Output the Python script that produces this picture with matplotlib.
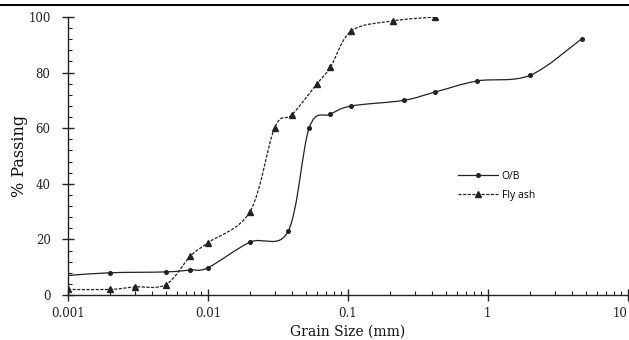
import numpy as np
import matplotlib
matplotlib.use("Agg")
import matplotlib.pyplot as plt
from matplotlib.path import Path
from matplotlib.patches import PathPatch
from matplotlib.lines import Line2D
from matplotlib.ticker import MultipleLocator, LogLocator, FixedFormatter, FixedLocator

# Grain size distribution (grain size in mm, percent passing)
ob_size = [0.001, 0.002, 0.005, 0.0075, 0.01, 0.02, 0.0375, 0.053, 0.075, 0.106, 0.25, 0.42, 0.84, 2.0, 4.7]
ob_pass = [7.0, 8.0, 8.3, 9.0, 9.8, 19.0, 23.0, 60.2, 65.0, 68.0, 70.0, 73.0, 77.0, 79.0, 92.2]

fa_size = [0.001, 0.002, 0.003, 0.005, 0.0075, 0.01, 0.02, 0.030, 0.04, 0.06, 0.075, 0.106, 0.21, 0.42]
fa_pass = [2.0, 2.0, 2.9, 3.7, 14.0, 18.8, 30.0, 60.2, 64.9, 75.9, 81.9, 95.0, 98.6, 100.0]

x_ticks = [0.001, 0.01, 0.1, 1, 10]
x_tick_labels = ["0.001", "0.01", "0.1", "1", "10"]
y_ticks = [0, 20, 40, 60, 80, 100]


def smooth_path(xs, ys, tension=1 / 6):
    """Cubic Bezier path through the points (Catmull-Rom style, log-x space)."""
    lx = np.log10(xs)
    y = np.asarray(ys, float)
    n = len(lx)
    verts = [(xs[0], y[0])]
    codes = [Path.MOVETO]
    for i in range(n - 1):
        p0 = (lx[i - 1], y[i - 1]) if i > 0 else (lx[i], y[i])
        p1 = (lx[i], y[i])
        p2 = (lx[i + 1], y[i + 1])
        p3 = (lx[i + 2], y[i + 2]) if i + 2 < n else p2
        c1 = (p1[0] + (p2[0] - p0[0]) * tension, p1[1] + (p2[1] - p0[1]) * tension)
        c2 = (p2[0] - (p3[0] - p1[0]) * tension, p2[1] - (p3[1] - p1[1]) * tension)
        for c in (c1, c2, p2):
            verts.append((10 ** c[0], c[1]))
        codes += [Path.CURVE4] * 3
    return Path(verts, codes)


fig = plt.figure(figsize=(6.29, 3.40), dpi=100)
ax = fig.add_axes([0.108, 0.1324, 0.890, 0.8176])
ax.set_xscale("log")
ax.set_xlim(0.001, 10)
ax.set_ylim(0, 100)

line_col = "#222222"
ax.add_patch(PathPatch(smooth_path(ob_size, ob_pass), fill=False, edgecolor=line_col, lw=0.9))
ax.add_patch(PathPatch(smooth_path(fa_size, fa_pass), fill=False, edgecolor=line_col, lw=0.9,
                       linestyle=(0, (2.5, 1.2))))
ax.plot(ob_size[1:], ob_pass[1:], linestyle="none", marker="o", ms=2.6, color=line_col)
ax.plot(fa_size, fa_pass, linestyle="none", marker="^", ms=4.2, color=line_col)

# legend entries
h1 = Line2D([], [], color=line_col, lw=0.9, marker="o", ms=2.6)
h2 = Line2D([], [], color=line_col, lw=0.9, marker="^", ms=4.2, linestyle=(0, (2.5, 1.2)))
ax.legend([h1, h2], ["O/B", "Fly ash"], loc="upper left", bbox_to_anchor=(0.68, 0.48),
          frameon=False, handlelength=3.8, handletextpad=0.4, labelspacing=0.75,
          prop={"family": "Open Sans", "size": 7.5})

for s in ("top", "right"):
    ax.spines[s].set_visible(False)
for s in ("left", "bottom"):
    ax.spines[s].set_color(line_col)
    ax.spines[s].set_linewidth(1.0)

ax.xaxis.set_major_locator(FixedLocator(x_ticks))
ax.xaxis.set_major_formatter(FixedFormatter(x_tick_labels))
ax.xaxis.set_minor_locator(LogLocator(base=10, subs=np.arange(2, 10)))
ax.yaxis.set_major_locator(FixedLocator(y_ticks))
ax.yaxis.set_minor_locator(MultipleLocator(4))

ax.tick_params(which="major", direction="inout", length=8, width=1.0, color=line_col,
               labelcolor="#222222")
ax.tick_params(axis="x", which="major", pad=5)
ax.tick_params(axis="y", which="major", pad=8.5)
ax.tick_params(which="minor", direction="in", length=3, width=0.8, color=line_col)
for lab in ax.get_xticklabels() + ax.get_yticklabels():
    lab.set_family("DejaVu Serif")
    lab.set_fontsize(8.5)
# keep the last decade label inside the figure edge
ax.get_xticklabels()[-1].set_horizontalalignment("right")

ax.set_xlabel("Grain Size (mm)", family="DejaVu Serif", fontsize=10, color="#111111", labelpad=3)
ax.set_ylabel("% Passing", family="DejaVu Serif", fontsize=11.5, color="#111111", labelpad=0)

# page rule above the chart
fig.add_artist(Line2D([0, 1], [1 - 5 / 340, 1 - 5 / 340], transform=fig.transFigure,
                      color="black", lw=1.4))

fig.savefig("out.png", dpi=100)
